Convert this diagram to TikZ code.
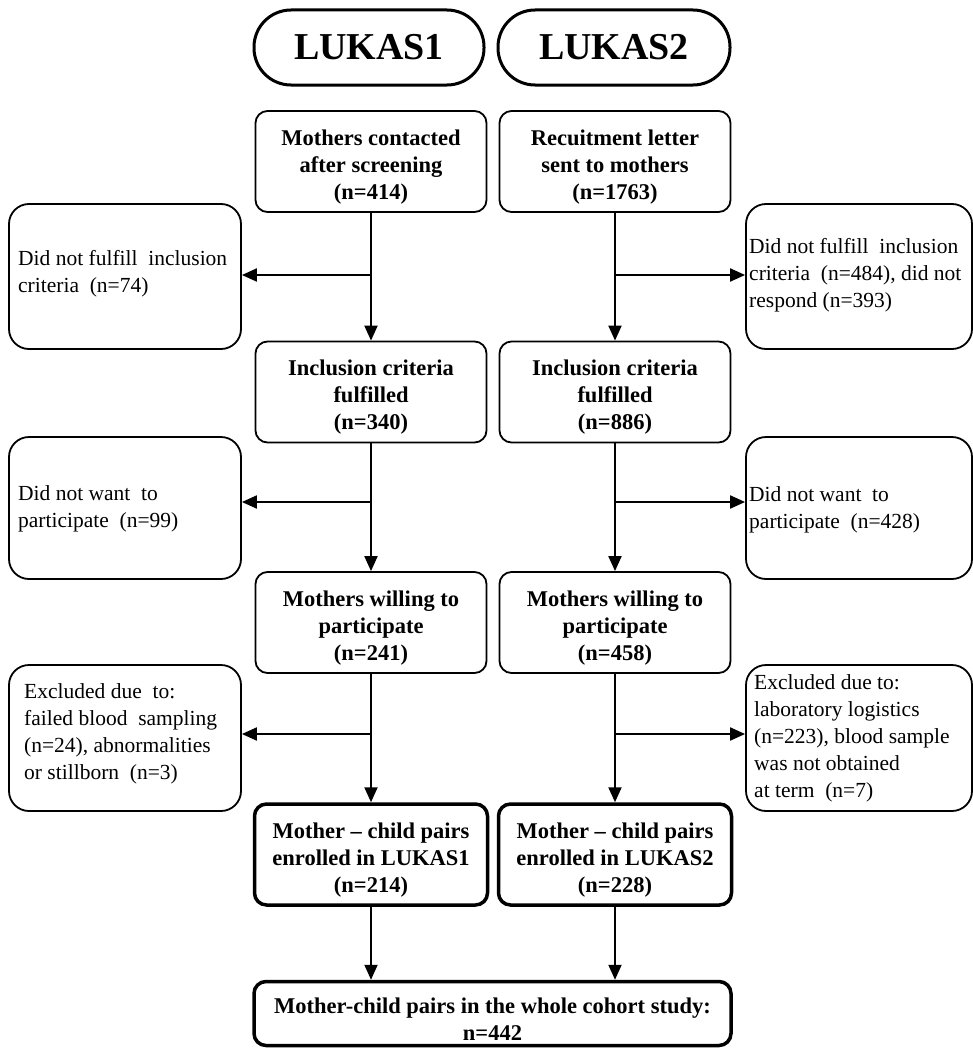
\documentclass[tikz,border=0pt]{standalone}
\usepackage{fontspec}
\setmainfont{Liberation Serif}
\usetikzlibrary{arrows.meta,calc}
\newcommand{\topstrut}{\rule{0pt}{26pt}}
\begin{document}
\begin{tikzpicture}[x=1pt,y=-1pt,
  base/.style={draw,rounded corners=12pt,line width=1.8pt,align=center,inner sep=0pt,font=\fontsize{22.5}{27}\selectfont\bfseries},
  mainbox/.style={base,minimum width=231pt,minimum height=101pt},
  endbox/.style={mainbox,line width=3.5pt},
  pill/.style={draw,rounded corners=37pt,line width=3pt,minimum width=230pt,minimum height=75pt,inner sep=0pt,font=\fontsize{38}{40}\selectfont\bfseries},
  sidebox/.style={draw,rounded corners=20pt,line width=1.8pt,minimum height=145pt},
  sidetext/.style={anchor=west,align=left,inner sep=0pt,font=\fontsize{21.5}{27}\selectfont},
  arr/.style={line width=2pt,-{Triangle[length=15pt,width=13pt]}},
]
\useasboundingbox (0,0) rectangle (973,1049);

% headers
\node[pill] (L1) at (369,47.5) {LUKAS1};
\node[pill,minimum width=232pt] (L2) at (614,47.5) {LUKAS2};

% main column boxes
\node[mainbox] (a1) at (371,161.5) {\topstrut Mothers contacted\\after screening\\(n=414)};
\node[mainbox] (b1) at (615,161.5) {\topstrut Recuitment letter\\sent to mothers\\(n=1763)};
\node[mainbox] (a2) at (371,392) {\topstrut Inclusion criteria\\fulfilled\\(n=340)};
\node[mainbox] (b2) at (615,392) {\topstrut Inclusion criteria\\fulfilled\\(n=886)};
\node[mainbox] (a3) at (371,622.5) {\topstrut Mothers willing to\\participate\\(n=241)};
\node[mainbox] (b3) at (615,622.5) {\topstrut Mothers willing to\\participate\\(n=458)};
\node[endbox,minimum width=233pt] (a4) at (371,854.5) {\topstrut Mother -- child pairs\\enrolled in LUKAS1\\(n=214)};
\node[endbox,minimum width=233pt] (b4) at (615,854.5) {\topstrut Mother -- child pairs\\enrolled in LUKAS2\\(n=228)};
\node[endbox,minimum width=477pt,minimum height=64pt] (fin) at (492.5,1013.5) {\topstrut Mother-child pairs in the whole cohort study:\\n=442};

% side boxes
\node[sidebox,minimum width=232pt] (s1) at (125,276.5) {};
\node[sidebox,minimum width=232pt,minimum height=142pt] (s2) at (125,508) {};
\node[sidebox,minimum width=232pt,minimum height=146pt] (s3) at (125,738) {};
\node[sidebox,minimum width=226pt] (r1) at (859,276.5) {};
\node[sidebox,minimum width=226pt,minimum height=142pt] (r2) at (859,508) {};
\node[sidebox,minimum width=226pt,minimum height=146pt] (r3) at (859,738) {};

\node[sidetext] (ts1) at (18,274) {Did not fulfill\ \ inclusion\\criteria\ \ (n=74)};
\node[sidetext] (ts2) at (18,509) {Did not want\ \ to\\participate\ \ (n=99)};
\node[sidetext] (ts3) at (24,734) {Excluded due\ \ to:\\failed blood\ \ sampling\\(n=24), abnormalities\\or stillborn\ \ (n=3)};
\node[sidetext] (tr1) at (749,275) {Did not fulfill\ \ inclusion\\criteria\ \ (n=484), did not\\respond (n=393)};
\node[sidetext] (tr2) at (749,510) {Did not want\ \ to\\participate\ \ (n=428)};
\node[sidetext] (tr3) at (754,738) {Excluded due to:\\laboratory logistics\\(n=223), blood sample\\was not obtained\\at term\ \ (n=7)};

% junctions
\coordinate (ja1) at (a1.south |- 0,275);
\coordinate (ja2) at (a2.south |- 0,502);
\coordinate (ja3) at (a3.south |- 0,734);
\coordinate (jb1) at (b1.south |- 0,275);
\coordinate (jb2) at (b2.south |- 0,502);
\coordinate (jb3) at (b3.south |- 0,734);

% vertical arrows
\draw[arr] (a1) -- (a2);
\draw[arr] (a2) -- (a3);
\draw[arr] (a3) -- (a4);
\draw[arr] (b1) -- (b2);
\draw[arr] (b2) -- (b3);
\draw[arr] (b3) -- (b4);
\draw[arr] (a4.south) -- (a4.south |- fin.north);
\draw[arr] (b4.south) -- (b4.south |- fin.north);

% side arrows
\draw[arr] (ja1) -- (ja1 -| s1.east);
\draw[arr] (ja2) -- (ja2 -| s2.east);
\draw[arr] (ja3) -- (ja3 -| s3.east);
\draw[arr] (jb1) -- (jb1 -| r1.west);
\draw[arr] (jb2) -- (jb2 -| r2.west);
\draw[arr] (jb3) -- (jb3 -| r3.west);
\end{tikzpicture}
\end{document}
